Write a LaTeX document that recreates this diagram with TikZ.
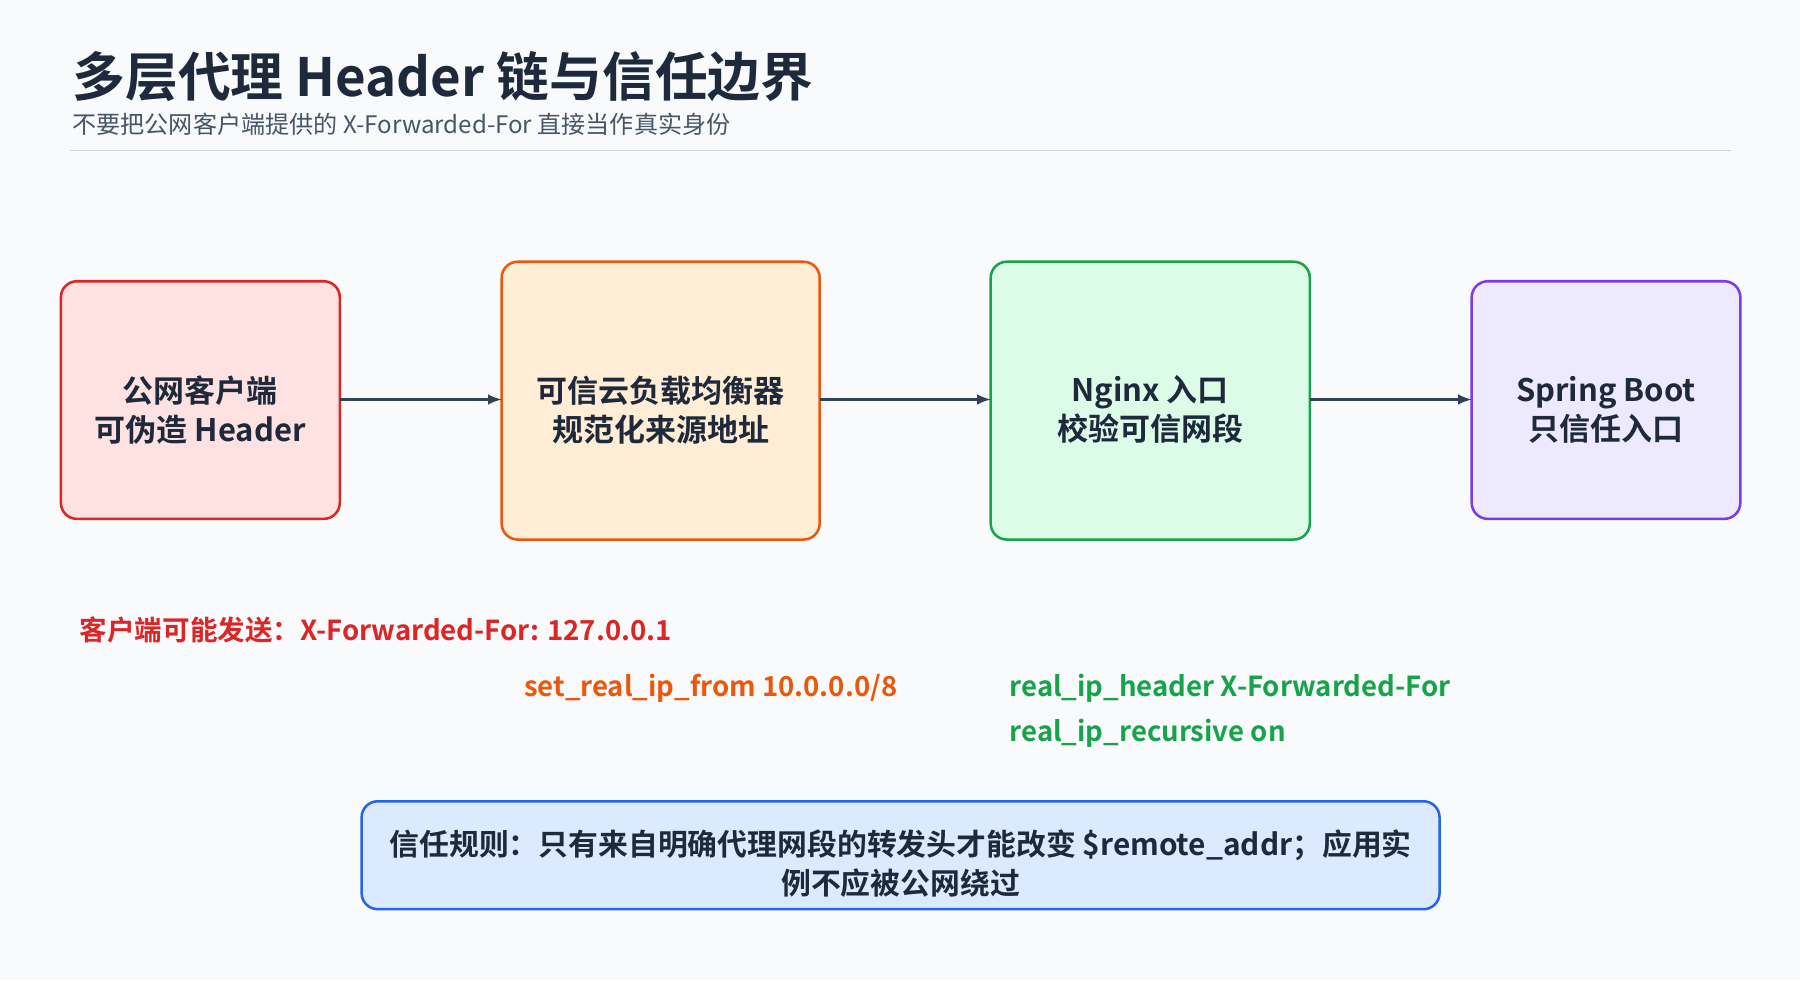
\documentclass[tikz,border=0pt]{standalone}
\usepackage{fontspec}
\setmainfont{Noto Sans CJK SC}[BoldFont={Noto Sans CJK SC Bold}]
\usetikzlibrary{positioning}
\definecolor{bgc}{HTML}{F8FAFC}
\definecolor{ink}{HTML}{1E293B}
\definecolor{subc}{HTML}{475569}
\definecolor{rulec}{HTML}{CBD5E1}
\definecolor{arr}{HTML}{334155}
\definecolor{redd}{HTML}{DC2626}\definecolor{redf}{HTML}{FEE2E2}
\definecolor{ord}{HTML}{EA580C}\definecolor{orf}{HTML}{FFEDD5}
\definecolor{grd}{HTML}{16A34A}\definecolor{grf}{HTML}{DCFCE7}
\definecolor{pud}{HTML}{7C3AED}\definecolor{puf}{HTML}{EDE9FE}
\definecolor{bld}{HTML}{2563EB}\definecolor{blf}{HTML}{DBEAFE}
\begin{document}
\begin{tikzpicture}[
    x=1pt, y=-1pt,
    stage/.style={rounded corners=14pt, line width=2.2pt, align=center,
      font=\fontsize{27}{34}\selectfont\bfseries, text=ink},
    note/.style={anchor=base west, font=\fontsize{24}{30}\selectfont\bfseries},
    flow/.style={-latex, line width=3pt, draw=arr}
]
\fill[bgc] (0,0) rectangle (1568,854);
% Titel
\node[anchor=base west, inner sep=0, text=ink, font=\fontsize{46}{50}\selectfont\bfseries] (title) at (63,84) {多层代理 Header 链与信任边界};
\node[anchor=base west, inner sep=0, text=subc, font=\fontsize{21}{26}\selectfont] (sub) at (63,116) {不要把公网客户端提供的 X-Forwarded-For 直接当作真实身份};
\draw[rulec, line width=1.5pt] (61,131) -- (1508,131);

% Stufen
\draw[stage, draw=redd, fill=redf] (53,245) rectangle (296,452);
\node[stage, draw=none] (client) at (174.5,357) {公网客户端\\可伪造 Header};
\draw[stage, draw=ord, fill=orf] (437,228) rectangle (714,470);
\node[stage, draw=none] (lb) at (575.5,357) {可信云负载均衡器\\规范化来源地址};
\draw[stage, draw=grd, fill=grf] (863,228) rectangle (1141,470);
\node[stage, draw=none] (nginx) at (1002,357) {Nginx 入口\\校验可信网段};
\draw[stage, draw=pud, fill=puf] (1282,245) rectangle (1516,452);
\node[stage, draw=none] (app) at (1399,357) {Spring Boot\\只信任入口};

\coordinate (c1) at (296,348); \coordinate (l1) at (437,348);
\coordinate (l2) at (714,348); \coordinate (n1) at (863,348);
\coordinate (n2) at (1141,348); \coordinate (a1) at (1282,348);
\draw[flow] (c1) -- (l1);
\draw[flow] (l2) -- (n1);
\draw[flow] (n2) -- (a1);

% Hinweise
\node[note, text=redd] (spoof) at (66,558) {客户端可能发送：X-Forwarded-For: 127.0.0.1};
\node[note, text=ord] (from) at (453,607) {set\_real\_ip\_from 10.0.0.0/8};
\node[note, text=grd] (hdr) at (876,607) {real\_ip\_header X-Forwarded-For};
\node[note, text=grd] (rec) at (876,646) {real\_ip\_recursive on};

% Regel
\draw[rounded corners=14pt, line width=2.2pt, draw=bld, fill=blf] (315,698) rectangle (1254,792);
\node[align=center, text=ink, font=\fontsize{26}{34}\selectfont\bfseries] (rule) at (784.5,752) {信任规则：只有来自明确代理网段的转发头才能改变 \$remote\_addr；应用实\\例不应被公网绕过};
\end{tikzpicture}
\end{document}
